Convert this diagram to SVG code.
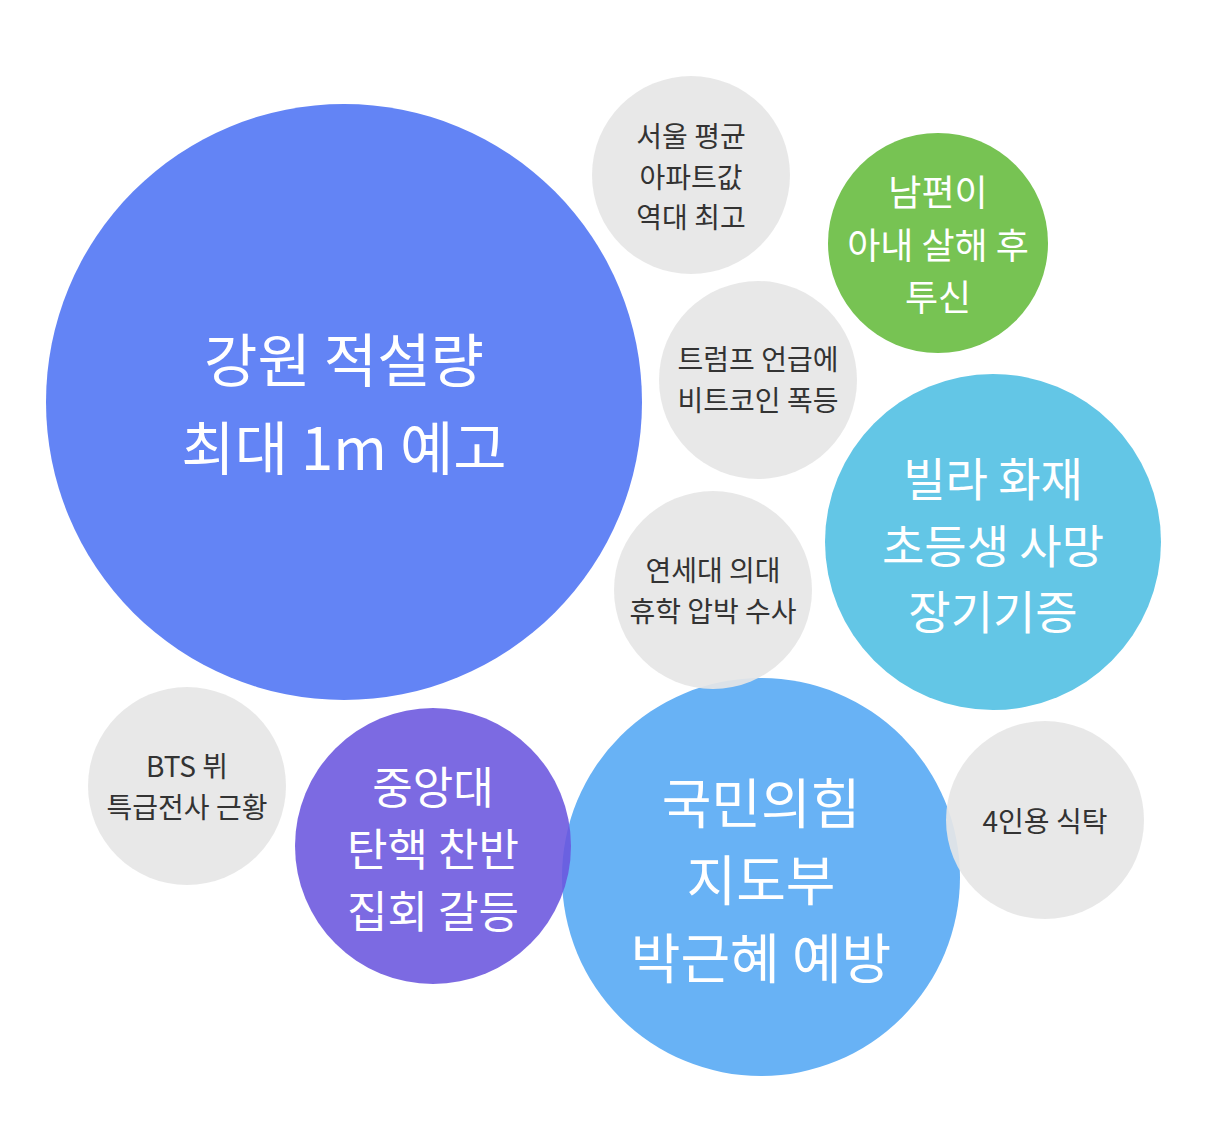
<svg xmlns="http://www.w3.org/2000/svg" width="1214" height="1122" viewBox="0 0 1214 1122">
<style>
text{font-family:"Noto Sans CJK KR","Noto Sans",sans-serif;text-anchor:middle;dominant-baseline:central}
.g{fill:#E6E6E6;opacity:0.92}
.s{fill:#333;font-size:28px}
.w{fill:#fff}
</style>
<rect width="1214" height="1122" fill="#fff"/>
<g id="n1"><circle cx="344" cy="402" r="298" fill="#6384F5"/>
<text class="w" x="344" y="357" font-size="58">강원 적설량</text><text class="w" x="344" y="445" font-size="58">최대 1m 예고</text></g>
<g id="n2"><circle class="g" cx="691" cy="175" r="99"/>
<text class="s" x="691" y="135">서울 평균</text><text class="s" x="691" y="176">아파트값</text><text class="s" x="691" y="216">역대 최고</text></g>
<g id="n3"><circle cx="938" cy="243" r="110" fill="#77C353"/>
<text class="w" x="938" y="190" font-size="36">남편이</text><text class="w" x="938" y="243" font-size="36">아내 살해 후</text><text class="w" x="938" y="295" font-size="36">투신</text></g>
<g id="n4"><circle class="g" cx="758" cy="380" r="99"/>
<text class="s" x="758" y="358">트럼프 언급에</text><text class="s" x="758" y="399">비트코인 폭등</text></g>
<g id="n5"><circle cx="993" cy="542" r="168" fill="#63C6E6"/>
<text class="w" x="993" y="476" font-size="46">빌라 화재</text><text class="w" x="993" y="543" font-size="46">초등생 사망</text><text class="w" x="993" y="609" font-size="46">장기기증</text></g>
<g id="n9"><circle cx="761" cy="877" r="199" fill="#68B2F5"/>
<text class="w" x="761" y="800" font-size="54">국민의힘</text><text class="w" x="761" y="877" font-size="54">지도부</text><text class="w" x="761" y="955" font-size="54">박근혜 예방</text></g>
<g id="n6"><circle class="g" cx="713" cy="590" r="99" opacity="0.85"/>
<text class="s" x="713" y="569">연세대 의대</text><text class="s" x="713" y="610">휴학 압박 수사</text></g>
<g id="n7"><circle class="g" cx="187" cy="786" r="99"/>
<text class="s" x="187" y="765">BTS 뷔</text><text class="s" x="187" y="806">특급전사 근황</text></g>
<g id="n8"><circle cx="433" cy="846" r="138" fill="#6A55DE" opacity="0.88"/>
<text class="w" x="433" y="785" font-size="44">중앙대</text><text class="w" x="433" y="847" font-size="44">탄핵 찬반</text><text class="w" x="433" y="909" font-size="44">집회 갈등</text></g>
<g id="n10"><circle class="g" cx="1045" cy="820" r="99" opacity="0.85"/>
<text class="s" x="1045" y="820">4인용 식탁</text></g>
<g id="connectors"/>
</svg>
